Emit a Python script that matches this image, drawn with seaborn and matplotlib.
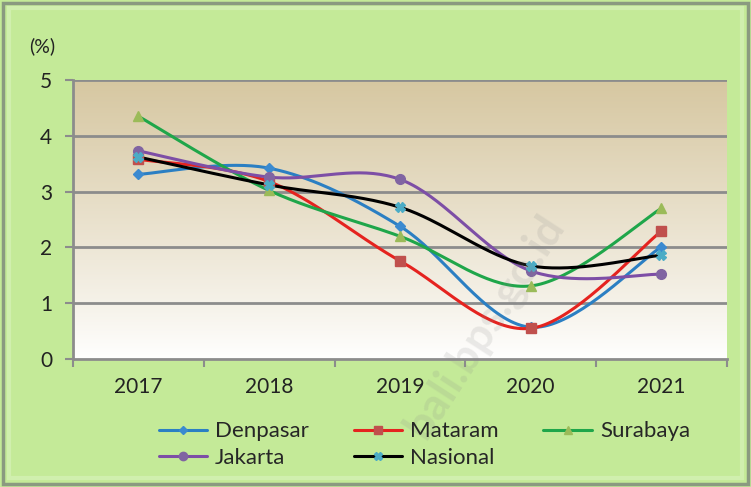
import numpy as np
import pandas as pd
import seaborn as sns
import matplotlib.pyplot as plt
from matplotlib.lines import Line2D
from matplotlib.patches import Rectangle

years = ['2017', '2018', '2019', '2020', '2021']
series = ['Denpasar', 'Mataram', 'Surabaya', 'Jakarta', 'Nasional']
denpasar = [3.31, 3.42, 2.38, 0.57, 2.01]
mataram = [3.58, 3.18, 1.76, 0.55, 2.29]
surabaya = [4.35, 3.02, 2.20, 1.31, 2.70]
jakarta = [3.73, 3.26, 3.22, 1.58, 1.52]
nasional = [3.62, 3.12, 2.72, 1.67, 1.86]
values = [denpasar, mataram, surabaya, jakarta, nasional]

line_colors = ['#2b7fc3', '#e5231f', '#1fa64a', '#7d4ea6', '#000000']
marker_colors = ['#3b8ad0', '#c0504d', '#9bbb59', '#8064a2', '#4bacc6']
markers = ['D', 's', '^', 'o', 'X']
msizes = [5, 7, 7, 7, 6.5]


def smooth(y, n=40):
    # Excel-like smoothed line: cubic bezier with catmull-rom control points
    x = np.arange(len(y), dtype=float)
    y = np.asarray(y, dtype=float)
    pts = np.column_stack([x, y])
    out = []
    t = np.linspace(0, 1, n)[:, None]
    for i in range(len(pts) - 1):
        p0 = pts[max(i - 1, 0)]
        p1 = pts[i]
        p2 = pts[i + 1]
        p3 = pts[min(i + 2, len(pts) - 1)]
        c1 = p1 + (p2 - p0) / 6
        c2 = p2 - (p3 - p1) / 6
        seg = ((1 - t) ** 3) * p1 + 3 * ((1 - t) ** 2) * t * c1 + 3 * (1 - t) * t ** 2 * c2 + t ** 3 * p2
        out.append(seg if i == 0 else seg[1:])
    return np.vstack(out)


rows = []
for name, vals in zip(series, values):
    curve = smooth(vals)
    for k, (xx, yy) in enumerate(curve):
        rows.append({'series': name, 'x': xx, 'y': yy, 'order': k})
df_curve = pd.DataFrame(rows)

df_pts = pd.DataFrame({
    'series': np.repeat(series, len(years)),
    'x': np.tile(np.arange(len(years)), len(series)),
    'y': np.concatenate(values),
})

sns.set_theme(style='white')
plt.rcParams['font.family'] = ['Lato', 'DejaVu Sans']

bg = '#c4ea98'
fig = plt.figure(figsize=(7.51, 4.87), dpi=100)
fig.patch.set_facecolor(bg)

# frame with a light bevel
fig.patches.append(Rectangle((0.004, 0.006), 0.992, 0.988, transform=fig.transFigure,
                             fill=False, edgecolor='#8a9a80', linewidth=2.5))
fig.patches.append(Rectangle((0.012, 0.018), 0.976, 0.966, transform=fig.transFigure,
                             fill=False, edgecolor='#d6f2b8', linewidth=3, alpha=0.7))

ax = fig.add_axes([0.0972, 0.2628, 0.8706, 0.5729])
ax.set_facecolor('white')

# gradient plot background
grad = np.linspace(0, 1, 256)[:, None]
top = np.array([0.84, 0.78, 0.63])
bottom = np.array([1.0, 1.0, 1.0])
img = bottom + (top - bottom) * grad ** 0.9
ax.imshow(img.reshape(256, 1, 3), extent=[-0.5, 4.5, 0, 5],
          origin='lower', aspect='auto', zorder=0)

for yy in range(1, 6):
    ax.axhline(yy, color='#8c8c8c', linewidth=2, zorder=1)

palette = dict(zip(series, line_colors))
sns.lineplot(data=df_curve, x='x', y='y', hue='series', palette=palette, sort=False,
             estimator=None, units='series', linewidth=2.2, legend=False, ax=ax, zorder=3)

for name, mk, mc, ms in zip(series, markers, marker_colors, msizes):
    sub = df_pts[df_pts['series'] == name]
    ax.plot(sub['x'], sub['y'], linestyle='none', marker=mk, markersize=ms,
            color=mc, markeredgecolor=mc, zorder=4)

ax.set_xlim(-0.5, 4.5)
ax.set_ylim(0, 5)
ax.set_xticks(np.arange(-0.5, 5, 1))
ax.set_xticklabels([])
ax.set_xticks(np.arange(len(years)), labels=years, minor=True)
ax.tick_params(axis='x', which='major', direction='out', length=6, width=1.5, color='#8c8c8c', bottom=True)
ax.tick_params(axis='x', which='minor', length=0, pad=13, labelsize=15, labelcolor='#222222')
ax.set_yticks(range(0, 6))
ax.tick_params(axis='y', direction='out', length=6, width=1.5, color='#8c8c8c', left=True,
               labelsize=15, labelcolor='#222222', pad=9)
ax.set_xlabel('')
ax.set_ylabel('')
for side in ['top', 'right']:
    ax.spines[side].set_visible(False)
for side in ['left', 'bottom']:
    ax.spines[side].set_color('#8c8c8c')
    ax.spines[side].set_linewidth(2)
    ax.spines[side].set_zorder(5)

fig.text(0.056, 0.905, '(%)', fontsize=14, color='#222222', ha='center', va='center')

handles = []
for name, lc, mk, mc, ms in zip(series, line_colors, markers, marker_colors, msizes):
    handles.append(Line2D([0], [0], color=lc, linewidth=2.2, marker=mk, markersize=ms - 1,
                          markerfacecolor=mc, markeredgecolor=mc, label=name))
order = [0, 3, 1, 4, 2]
fig.legend([handles[i] for i in order], [series[i] for i in order], ncol=3,
           loc='center', bbox_to_anchor=(0.565, 0.087), frameon=False, fontsize=16,
           handlelength=2.2, handletextpad=0.35, columnspacing=2.0, labelspacing=0.3,
           borderpad=0.2)

fig.text(0.645, 0.33, 'bali.bps.go.id', fontsize=32, fontweight='bold', color='#888888',
         alpha=0.16, rotation=57, ha='center', va='center')

fig.savefig('out.png', dpi=100, facecolor=bg)
